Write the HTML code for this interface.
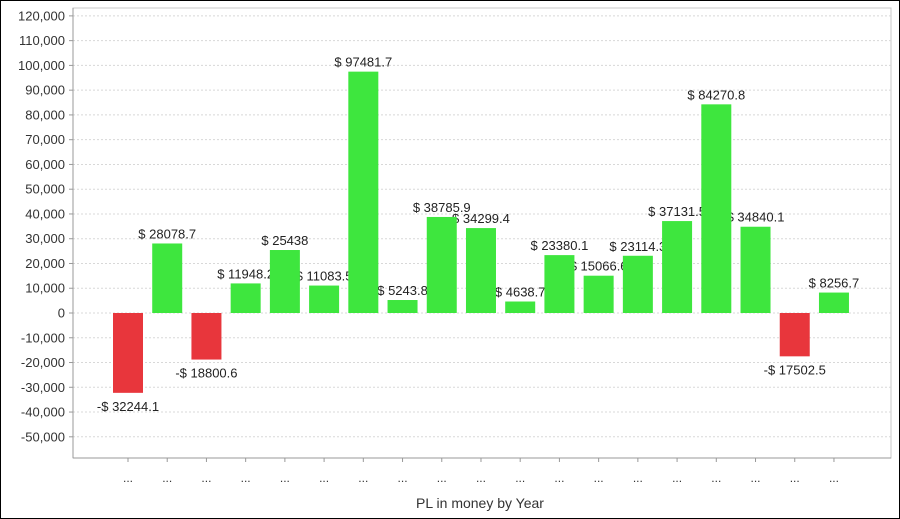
<!DOCTYPE html>
<html><head><meta charset="utf-8"><style>
body{margin:0;background:#fff}
svg{display:block;font-family:"Liberation Sans",Arial,sans-serif}
</style></head><body>
<svg id="chart" width="900" height="519">
<rect x="0.5" y="0.5" width="899" height="518" fill="#fff" stroke="#000"/>
<g id="grid"></g><g id="labels"></g><g id="bars"></g><g id="axes"></g>
<text x="480" y="508" text-anchor="middle" font-size="14" fill="#333">PL in money by Year</text>
</svg>
<script>
const categories=["1","2","3","4","5","6","7","8","9","10","11","12","13","14","15","16","17","18","19"];
const values=[-32244.1,28078.7,-18800.6,11948.2,25438,11083.5,97481.7,5243.8,38785.9,34299.4,4638.7,23380.1,15066.6,23114.3,37131.5,84270.8,34840.1,-17502.5,8256.7];
const yTicks=[120000,110000,100000,90000,80000,70000,60000,50000,40000,30000,20000,10000,0,-10000,-20000,-30000,-40000,-50000];
const NS="http://www.w3.org/2000/svg";
const L=73,R=891,T=8,B=458;
const y=v=>313-v*0.002476;
const x=i=>128+i*39.22;
function mk(tag,attrs,parent,txt){const e=document.createElementNS(NS,tag);for(const k in attrs)e.setAttribute(k,attrs[k]);if(txt!==undefined)e.textContent=txt;parent.appendChild(e);return e;}
const grid=document.getElementById('grid'),labels=document.getElementById('labels'),bars=document.getElementById('bars'),axes=document.getElementById('axes');
mk('rect',{x:L,y:T,width:R-L,height:B-T,fill:'#fff',stroke:'#c8c8c8'},grid);
yTicks.forEach(t=>{
 const g=mk('line',{x1:L,x2:R,y1:y(t),y2:y(t),stroke:'#d8d8d8','stroke-dasharray':'2,2'},grid);
 
 
 mk('line',{x1:L-4,x2:L,y1:y(t),y2:y(t),stroke:'#999'},axes);
 const tl=mk('text',{x:L-8,y:y(t)+4.5,'text-anchor':'end','font-size':13,fill:'#333'},axes,t.toLocaleString('en-US'));
 
 
});
mk('line',{x1:L,x2:L,y1:T,y2:B,stroke:'#999'},axes);
mk('line',{x1:L,x2:R,y1:B,y2:B,stroke:'#999'},axes);
values.forEach((v,i)=>{
 const cx=x(i),w=30;
 const top=Math.min(y(v),y(0)),h=Math.abs(y(v)-y(0));
 const b=mk('rect',{x:cx-w/2,y:top,width:w,height:h,fill:v<0?'#e8363c':'#3ee63e'},bars);
 
 
 const txt=(v<0?'-$ ':'$ ')+Math.abs(v);
 const ly=v<0?y(v)+18:y(v)-5;
 const lb=mk('text',{x:cx,y:ly,'text-anchor':'middle','font-size':13,fill:'#222'},labels,txt);
 
 
 mk('line',{x1:cx,x2:cx,y1:B,y2:B+4,stroke:'#999'},axes);
 const xl=mk('text',{x:cx,y:482,'text-anchor':'middle','font-size':12,fill:'#333'},axes,'...');
 
 
});
</script>
</body></html>
